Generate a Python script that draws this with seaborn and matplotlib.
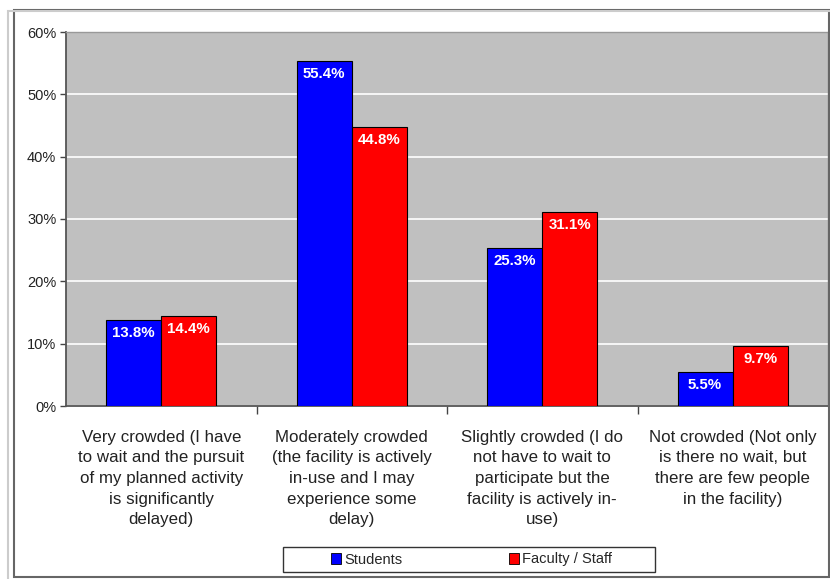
import matplotlib.pyplot as plt
import matplotlib.patches as mpatches
import seaborn as sns
import pandas as pd

categories = [
    "Very crowded (I have\nto wait and the pursuit\nof my planned activity\nis significantly\ndelayed)",
    "Moderately crowded\n(the facility is actively\nin-use and I may\nexperience some\ndelay)",
    "Slightly crowded (I do\nnot have to wait to\nparticipate but the\nfacility is actively in-\nuse)",
    "Not crowded (Not only\nis there no wait, but\nthere are few people\nin the facility)",
]
groups = ["Students", "Faculty / Staff"]
students = [13.8, 55.4, 25.3, 5.5]
faculty = [14.4, 44.8, 31.1, 9.7]
y_ticks = [0, 10, 20, 30, 40, 50, 60]

df = pd.DataFrame({
    "category": categories * 2,
    "group": [groups[0]] * 4 + [groups[1]] * 4,
    "value": students + faculty,
})

sns.set_theme(style="white")
plt.rcParams["font.family"] = ["Liberation Sans", "DejaVu Sans"]

fig = plt.figure(figsize=(8.3, 5.79), dpi=100)
ax = fig.add_axes([66 / 830, 1 - 406 / 579, 762 / 830, 374 / 579])
ax.set_facecolor("#C0C0C0")

sns.barplot(data=df, x="category", y="value", hue="group", order=categories,
            hue_order=groups, palette=["#0000FF", "#FF0000"], saturation=1, width=0.58,
            edgecolor="black", linewidth=0.8, ax=ax, legend=False, zorder=3)

for cont in ax.containers:
    for bar in cont:
        h = bar.get_height()
        ax.annotate(f"{h:.1f}%", (bar.get_x() + bar.get_width() / 2, h),
                    xytext=(0, -9.5), textcoords="offset points",
                    ha="center", va="center", color="white", fontsize=10.8,
                    fontweight="bold", zorder=4)

ax.set_ylim(0, 60)
ax.set_xlim(-0.5, 3.5)
ax.set_yticks(y_ticks)
ax.set_yticklabels([f"{t}%" for t in y_ticks], fontsize=10.5, color="#222222")
ax.yaxis.grid(True, color="white", linewidth=1.2, zorder=0)
ax.set_axisbelow(True)

ax.set_xticks(range(4))
ax.set_xticklabels(categories, fontsize=12.2, color="#222222", linespacing=1.47)
ax.set_xticks([0.5, 1.5, 2.5], minor=True)
ax.tick_params(axis="x", which="major", length=0, pad=17)
ax.tick_params(axis="x", which="minor", length=6, width=1, color="#444444", direction="out", bottom=True)
ax.tick_params(axis="y", length=4, width=1, color="#444444", direction="out", left=True, pad=3)
ax.set_xlabel("")
ax.set_ylabel("")

for s in ["left", "bottom"]:
    ax.spines[s].set_color("#555555")
    ax.spines[s].set_linewidth(1.3)
for s in ["top", "right"]:
    ax.spines[s].set_color("#999999")
    ax.spines[s].set_linewidth(1)

# legend: entries without frame, wide box drawn separately
handles = [mpatches.Patch(facecolor="#0000FF", edgecolor="black", linewidth=0.6, label=groups[0]),
           mpatches.Patch(facecolor="#FF0000", edgecolor="black", linewidth=0.6, label=groups[1])]
fig.legend(handles=handles, loc="center left", bbox_to_anchor=(331 / 830, 1 - 559.5 / 579),
           ncol=2, fontsize=10.5, frameon=False, handlelength=0.7,
           handleheight=0.7, handletextpad=0.2, columnspacing=7.3, borderpad=0,
           borderaxespad=0)
fig.patches.append(mpatches.Rectangle((283 / 830, 1 - 572 / 579), 372 / 830, 25 / 579,
                                      transform=fig.transFigure, fill=True, facecolor="white",
                                      edgecolor="#333333", linewidth=1, zorder=0))

fig.patches.append(mpatches.Rectangle((14 / 830, 2 / 579), 815 / 830, 567 / 579,
                                      transform=fig.transFigure, fill=False,
                                      edgecolor="#666666", linewidth=1.5))
fig.patches.append(mpatches.Rectangle((8 / 830, -0.01), 830 / 830, 574 / 579,
                                      transform=fig.transFigure, fill=False,
                                      edgecolor="#CCCCCC", linewidth=1.5))

fig.savefig("out.png", dpi=100)
